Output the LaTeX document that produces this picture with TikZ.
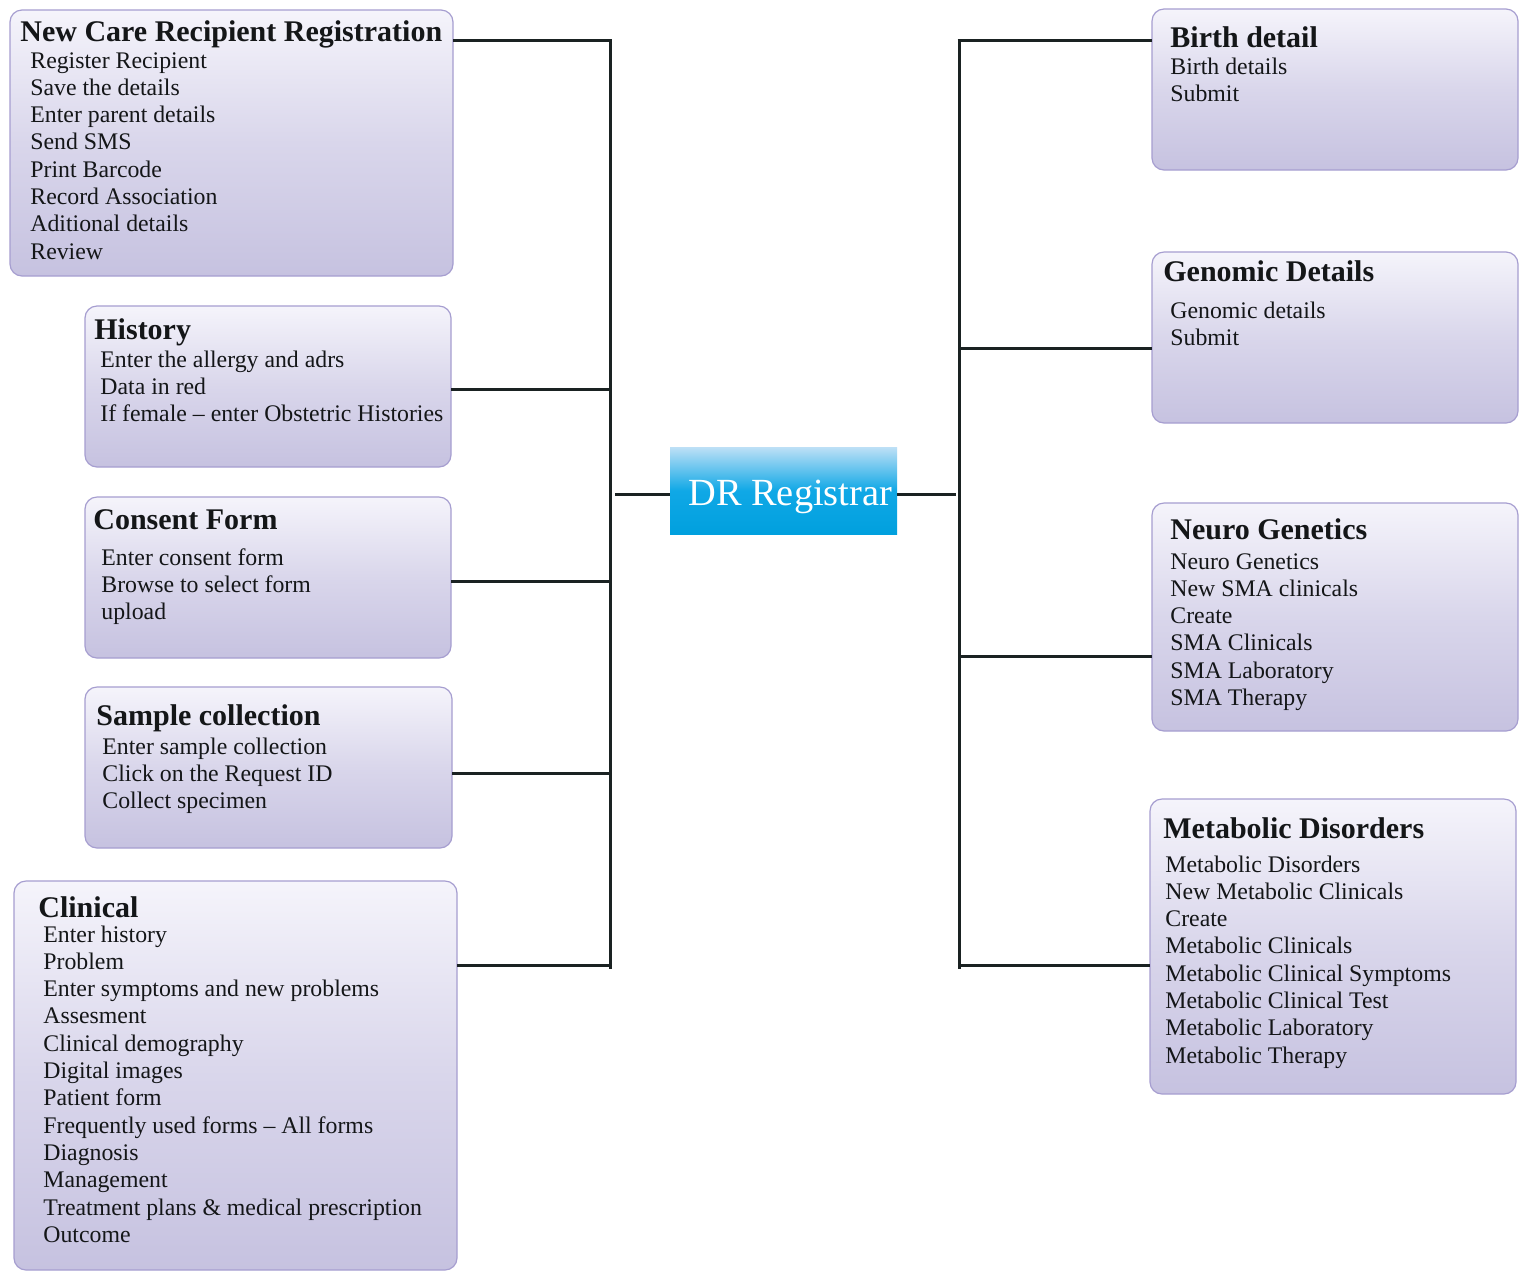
\documentclass[tikz,border=0pt]{standalone}
\usepackage{fontspec}
\setmainfont{Liberation Serif}
\definecolor{boxtop}{RGB}{245,244,251}
\definecolor{boxmid}{RGB}{217,214,235}
\definecolor{boxbot}{RGB}{198,194,224}
\definecolor{boxline}{RGB}{166,158,208}
\definecolor{txt}{RGB}{20,22,24}
\definecolor{linecol}{RGB}{26,34,34}
\definecolor{drtop}{RGB}{190,224,246}
\definecolor{drmid}{RGB}{16,168,230}
\definecolor{drbot}{RGB}{0,160,222}
\newcommand\itemlist[1]{\vtop{\halign{##\hfil\cr#1\crcr}}}
\begin{document}
\begin{tikzpicture}[x=0.5pt,y=-0.5pt,
  box/.style={draw=boxline, line width=0.6pt, rounded corners=6pt, top color=boxtop, bottom color=boxbot, middle color=boxmid, anchor=north west, inner sep=0pt, outer sep=0pt},
  ttl/.style={anchor=base west, inner sep=0pt, font=\fontsize{15}{18}\selectfont\bfseries, text=txt},
  body/.style={anchor=base west, inner sep=0pt, font=\fontsize{11.9}{13.65}\selectfont, text=txt},
  conn/.style={draw=linecol, line width=1.5pt}]
\useasboundingbox (0,0) rectangle (1538,1271);
\fill[white] (0,0) rectangle (1538,1271);

% boxes
\node[box, minimum width=221.5pt, minimum height=133pt] (ncrr) at (10,10) {};
\node[box, minimum width=183pt, minimum height=80.5pt] (hist) at (85,306) {};
\node[box, minimum width=183pt, minimum height=80.5pt] (cons) at (85,497) {};
\node[box, minimum width=183.5pt, minimum height=80.5pt] (samp) at (85,687) {};
\node[box, minimum width=221.5pt, minimum height=194.5pt] (clin) at (14,881) {};
\node[box, minimum width=183pt, minimum height=80.5pt] (birth) at (1152,9) {};
\node[box, minimum width=183pt, minimum height=85.5pt] (geno) at (1152,252) {};
\node[box, minimum width=183pt, minimum height=114pt] (neuro) at (1152,503) {};
\node[box, minimum width=183pt, minimum height=147.5pt] (meta) at (1150,799) {};
\node[anchor=north west, inner sep=0pt, outer sep=0pt, minimum width=113.5pt, minimum height=43.5pt, top color=drtop, bottom color=drbot, middle color=drmid] (dr) at (670,447) {};

% titles and texts
\node[ttl] (ncrrT) at (20,41) {New Care Recipient Registration};
\node[body] (ncrrB) at (30,68) {\itemlist{Register Recipient\cr Save the details\cr Enter parent details\cr Send SMS\cr Print Barcode\cr Record Association\cr Aditional details\cr Review}};

\node[ttl] (histT) at (94,339) {History};
\node[body] (histB) at (100,367) {\itemlist{Enter the allergy and adrs\cr Data in red\cr If female -- enter Obstetric Histories}};

\node[ttl] (consT) at (93,529) {Consent Form};
\node[body] (consB) at (101,565) {\itemlist{Enter consent form\cr Browse to select form\cr upload}};

\node[ttl] (sampT) at (96,725) {Sample collection};
\node[body] (sampB) at (102,754) {\itemlist{Enter sample collection\cr Click on the Request ID\cr Collect specimen}};

\node[ttl] (clinT) at (38,917) {Clinical};
\node[body] (clinB) at (43,942) {\itemlist{Enter history\cr Problem\cr Enter symptoms and new problems\cr Assesment\cr Clinical demography\cr Digital images\cr Patient form\cr Frequently used forms -- All forms\cr Diagnosis\cr Management\cr Treatment plans \& medical prescription\cr Outcome}};

\node[ttl] (birthT) at (1170,47) {Birth detail};
\node[body] (birthB) at (1170,74) {\itemlist{Birth details\cr Submit}};

\node[ttl] (genoT) at (1163,281) {Genomic Details};
\node[body] (genoB) at (1170,318) {\itemlist{Genomic details\cr Submit}};

\node[ttl] (neuroT) at (1170,539) {Neuro Genetics};
\node[body] (neuroB) at (1170,569) {\itemlist{Neuro Genetics\cr New SMA clinicals\cr Create\cr SMA Clinicals\cr SMA Laboratory\cr SMA Therapy}};

\node[ttl] (metaT) at (1163,838) {Metabolic Disorders};
\node[body] (metaB) at (1165,872) {\itemlist{Metabolic Disorders\cr New Metabolic Clinicals\cr Create\cr Metabolic Clinicals\cr Metabolic Clinical Symptoms\cr Metabolic Clinical Test\cr Metabolic Laboratory\cr Metabolic Therapy}};

\node[anchor=base west, inner sep=0pt, text=white, font=\fontsize{19.2}{22}\selectfont] (drT) at (688,505) {DR Registrar};

% connectors
\coordinate (LT) at (610,40);
\coordinate (LB) at (610,969);
\coordinate (L2) at (610,389);
\coordinate (L3) at (610,581);
\coordinate (L4) at (610,773);
\coordinate (L5) at (610,965);
\coordinate (CL) at (615,494);
\coordinate (CR) at (956,494);
\coordinate (RT) at (959,40);
\coordinate (RB) at (959,969);
\coordinate (R2) at (959,348);
\coordinate (R3) at (959,656);
\coordinate (R4) at (959,965);

\draw[conn] (LT) -- (LB);
\draw[conn] (RT) -- (RB);
\draw[conn] (ncrr.east |- LT) -- ([xshift=0.75pt]LT);
\draw[conn] (hist.east |- L2) -- (L2);
\draw[conn] (cons.east |- L3) -- (L3);
\draw[conn] (samp.east |- L4) -- (L4);
\draw[conn] (clin.east |- L5) -- (L5);
\draw[conn] (CL) -- (dr.west |- CL);
\draw[conn] (dr.east |- CR) -- (CR);
\draw[conn] ([xshift=-0.75pt]RT) -- (birth.west |- RT);
\draw[conn] (R2) -- (geno.west |- R2);
\draw[conn] (R3) -- (neuro.west |- R3);
\draw[conn] (R4) -- (meta.west |- R4);
\end{tikzpicture}
\end{document}
